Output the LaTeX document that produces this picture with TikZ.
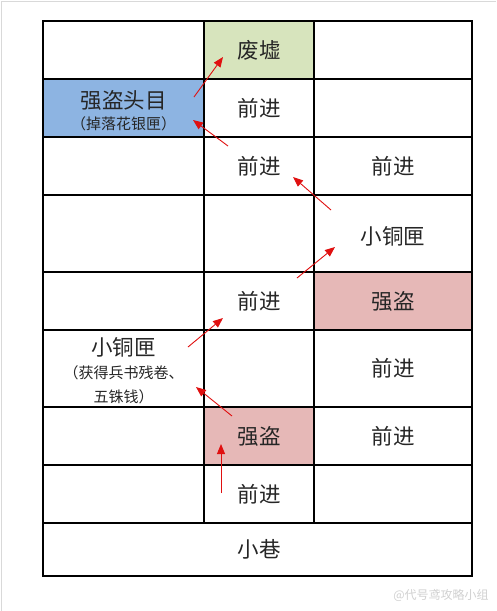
\documentclass[tikz,border=0pt]{standalone}
\usepackage{fontspec}
\newfontfamily\cjk{Noto Sans CJK SC}
\usetikzlibrary{arrows.meta}
\definecolor{ruingreen}{HTML}{D7E4BD}
\definecolor{bossblue}{HTML}{8DB4E2}
\definecolor{banditpink}{HTML}{E6B8B7}
\definecolor{arrowred}{HTML}{E01010}
\tikzset{
  big/.style={font=\cjk\fontsize{21.5}{24}\selectfont, text=black!85, inner sep=0pt},
  small/.style={font=\cjk\fontsize{15}{24}\selectfont, text=black!85, inner sep=0pt, align=center},
  gridline/.style={line width=1.2pt, black},
  redarrow/.style={draw=arrowred, line width=0.9pt, -{Triangle[length=10pt,width=8pt]}},
}
\begin{document}
\begin{tikzpicture}[x=1pt,y=-1pt]
\useasboundingbox (0,0) rectangle (496,611);
\fill[white] (0,0) rectangle (496,611);
\draw[black!15, line width=1.5pt] (1.5,611) -- (1.5,1.5) -- (496,1.5);
% cell fills
\fill[ruingreen] (204,21) rectangle (314,79);
\fill[bossblue] (43,79) rectangle (204,137);
\fill[banditpink] (314,272) rectangle (472,330);
\fill[banditpink] (204,407) rectangle (314,465);
% grid
\draw[gridline] (43,21) rectangle (472,576);
\foreach \y in {79,137,195,272,330,407,465,523}
  \draw[gridline] (43,\y) -- (472,\y);
\draw[gridline] (204,21) -- (204,523);
\draw[gridline] (314,21) -- (314,523);
% texts
\node[big] (ruin) at (259,50) {废墟};
\node[big] (boss) at (123.5,100) {强盗头目};
\node[small] (bossnote) at (123.5,124) {（掉落花银匣）};
\node[big] (fw2) at (259,108) {前进};
\node[big] (fw3m) at (259,166) {前进};
\node[big] (fw3r) at (393,166) {前进};
\node[big] (box1) at (393,236) {小铜匣};
\node[big] (fw5) at (259,301) {前进};
\node[big] (band1) at (393,301) {强盗};
\node[big] (box2) at (123.5,347) {小铜匣};
\node[small] (box2note) at (123.5,385) {（获得兵书残卷、\\五铢钱）};
\node[big] (fw6) at (393,368.5) {前进};
\node[big] (band2) at (259,436) {强盗};
\node[big] (fw7) at (393,436) {前进};
\node[big] (fw8) at (259,494) {前进};
\node[big] (alley) at (259,549.5) {小巷};
\node[font=\cjk\fontsize{12}{14}\selectfont, text=black!18] (mark) at (441,595) {@代号鸢攻略小组};
% arrow ends
\coordinate (a1s) at (194,97);  \coordinate (a1e) at (223,57);
\coordinate (a2s) at (228,146); \coordinate (a2e) at (193,120);
\coordinate (a3s) at (331,210); \coordinate (a3e) at (293,177);
\coordinate (a4s) at (297,278); \coordinate (a4e) at (335,247);
\coordinate (a5s) at (188,347); \coordinate (a5e) at (223,318);
\coordinate (a6s) at (232,416); \coordinate (a6e) at (196,387);
\coordinate (a7s) at (221,493); \coordinate (a7e) at (221,444);
\foreach \i in {1,...,7}
  \draw[redarrow] (a\i s) -- (a\i e);
\end{tikzpicture}
\end{document}
